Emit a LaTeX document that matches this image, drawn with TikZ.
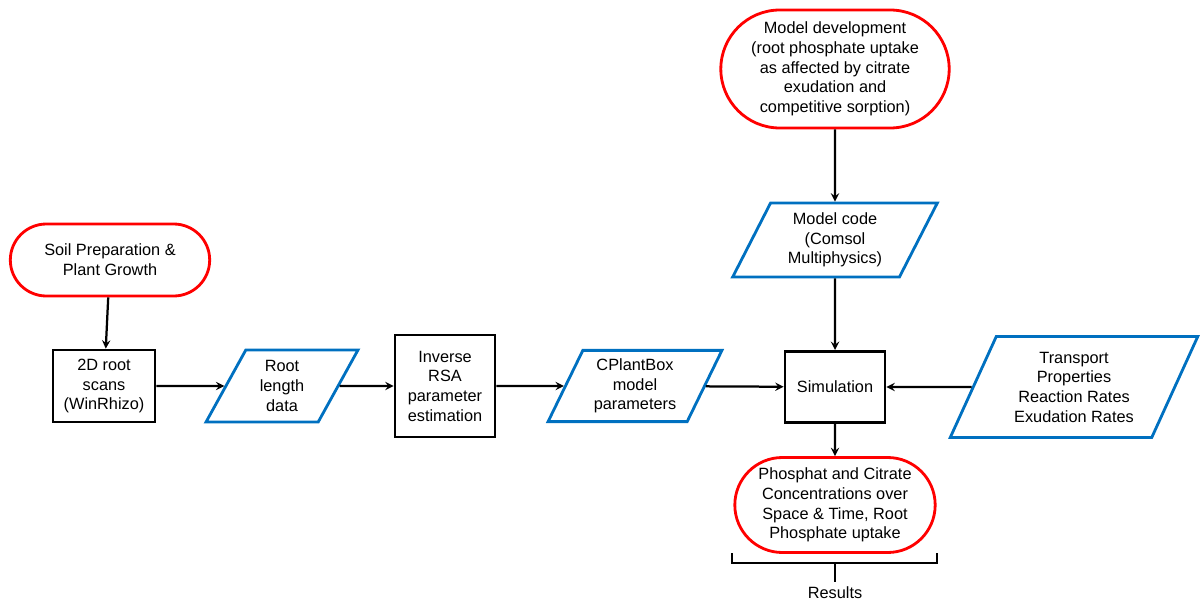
\documentclass[tikz,border=0pt]{standalone}
\usepackage{fontspec}
\setmainfont{Liberation Sans}
\usetikzlibrary{shapes.geometric, shapes.misc, arrows}
\definecolor{termred}{RGB}{255,0,0}
\definecolor{datablue}{RGB}{0,112,192}
\tikzstyle{every node}=[font=\fontsize{11.6}{14}\selectfont, align=center]
\tikzstyle{terminal} = [rounded rectangle, draw=termred, line width=2pt, inner sep=2pt]
\tikzstyle{process} = [rectangle, draw=black, line width=2pt, inner sep=2pt]
\tikzstyle{data} = [trapezium, trapezium left angle=64, trapezium right angle=116, trapezium stretches=true, draw=datablue, line width=2pt, inner sep=2pt]
\tikzstyle{arrow} = [line width=1.6pt,->,>=stealth]

\begin{document}
\begin{tikzpicture}
        \useasboundingbox (0,0) rectangle (30,15.025);

        \node (soil) [terminal, minimum width=5.125cm, minimum height=1.8cm] at (2.75,8.525) {Soil Preparation \&\\Plant Growth};
        \node (scans) [process, minimum width=2.55cm, minimum height=1.8cm] at (2.6,5.375) {2D root\\scans\\(WinRhizo)};
        \node (rootlen) [data, minimum width=3.825cm, minimum height=1.8cm] at (7.05,5.375) {Root\\length\\data};
        \node (inverse) [process, minimum width=2.5cm, minimum height=2.55cm] at (11.125,5.375) {Inverse\\RSA\\parameter\\estimation};
        \node (cpb) [data, minimum width=4.35cm, minimum height=1.78cm] at (15.875,5.375) {CPlantBox\\model\\parameters};
        \node (sim) [process, minimum width=2.5cm, minimum height=1.78cm] at (20.875,5.35) {Simulation};
        \node (props) [data, minimum width=6.2cm, minimum height=2.525cm] at (26.85,5.35) {Transport\\Properties\\Reaction Rates\\Exudation Rates};

        \node (modeldev) [terminal, minimum width=5.85cm, minimum height=2.95cm] at (20.875,13.3) {Model development\\(root phosphate uptake\\as affected by citrate\\exudation and\\competitive sorption)};
        \node (code) [data, minimum width=5.125cm, minimum height=1.85cm] at (20.875,9.025) {Model code\\(Comsol\\Multiphysics)};

        \node (conc) [terminal, minimum width=5.15cm, minimum height=2.375cm] at (20.875,2.4) {Phosphat and Citrate\\Concentrations over\\Space \& Time, Root\\Phosphate uptake};

        % bracket under the results
        \coordinate (brl) at (18.3,1.2);
        \coordinate (brr) at (23.425,1.2);
        \coordinate (brm) at (20.875,0.95);
        \node (res) at (20.875,0.2) {Results};
        \draw [line width=2pt] (brl) -- (brl |- brm) -- (brr |- brm) -- (brr);
        \draw [line width=2pt] (brm) -- (res.north);

        \draw [arrow] (soil) -- (scans);
        \draw [arrow] (scans) -- (rootlen);
        \draw [arrow] (rootlen) -- (inverse);
        \draw [arrow] (inverse) -- (cpb);
        \draw [arrow] (cpb) -- (sim);
        \draw [arrow] (props) -- (sim);
        \draw [arrow] (modeldev) -- (code);
        \draw [arrow] (code) -- (sim);
        \draw [arrow] (sim) -- (conc);
      \end{tikzpicture}
\end{document}
